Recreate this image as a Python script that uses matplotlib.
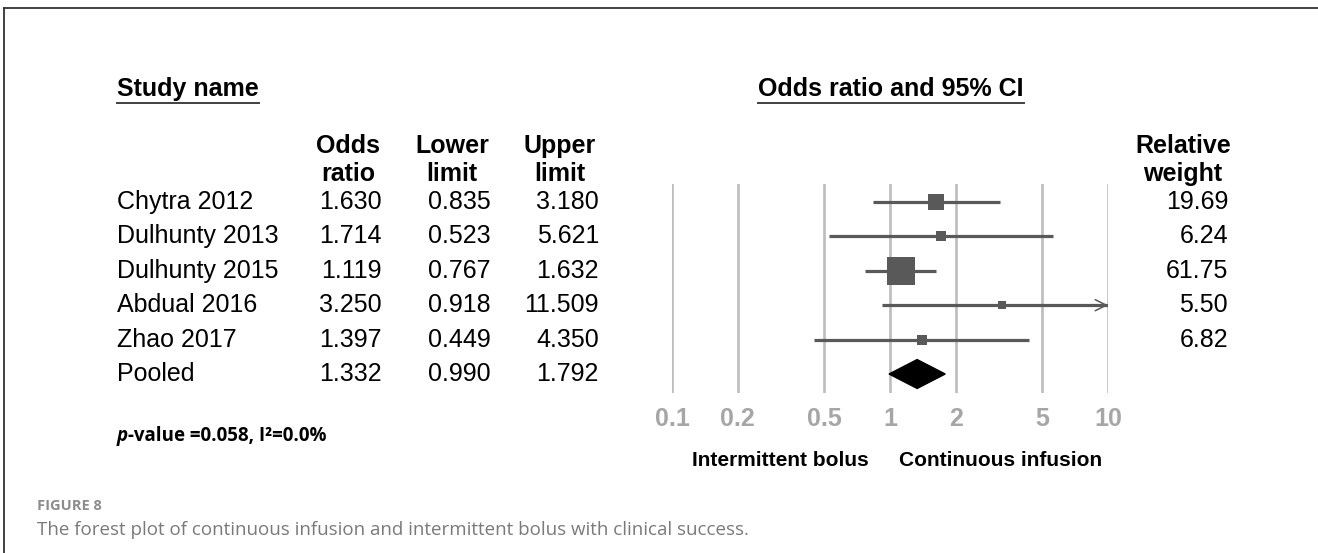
import numpy as np
import matplotlib
matplotlib.use("Agg")
import matplotlib.pyplot as plt
import matplotlib.transforms as mtransforms
from matplotlib.lines import Line2D
from matplotlib.patches import Polygon

plt.rcParams["font.family"] = ["Liberation Sans", "DejaVu Sans"]

# datos del forest plot
estudios = ["Chytra 2012", "Dulhunty 2013", "Dulhunty 2015", "Abdual 2016", "Zhao 2017", "Pooled"]
odds = [1.630, 1.714, 1.119, 3.250, 1.397, 1.332]
inferior = [0.835, 0.523, 0.767, 0.918, 0.449, 0.990]
superior = [3.180, 5.621, 1.632, 11.509, 4.350, 1.792]
pesos = [19.69, 6.24, 61.75, 5.50, 6.82]

ticks = [0.1, 0.2, 0.5, 1, 2, 5, 10]
tick_labels = ["0.1", "0.2", "0.5", "1", "2", "5", "10"]

W, H = 1318, 553
fig = plt.figure(figsize=(W / 100, H / 100), dpi=100)


def fx(px):
    return px / W


def fy(py):
    return 1 - py / H


# eje del grafico (en pixeles: x 672-1108, y 184-393)
ax = fig.add_axes([fx(672), fy(393), fx(1108) - fx(672), (393 - 184) / H])
ax.set_xscale("log")
ax.set_xlim(0.1, 10)
ax.set_ylim(5.552, -0.523)
for s in ax.spines.values():
    s.set_visible(False)
ax.set_yticks([])
ax.set_xticks(ticks)
ax.set_xticklabels(tick_labels)
ax.xaxis.set_minor_locator(matplotlib.ticker.NullLocator())
ax.tick_params(axis="x", length=0, pad=10, labelsize=18, labelcolor="#a6a6a6")
for t in ax.get_xticklabels():
    t.set_fontweight("bold")

for t in ticks:
    ax.axvline(t, color="#bdbdbd", lw=1.9, zorder=1)

gris = "#595959"
n = len(pesos)
for i in range(n):
    hi = min(superior[i], 10)
    ax.plot([inferior[i], hi], [i, i], color=gris, lw=2.3, solid_capstyle="butt", zorder=2)
    ax.plot(odds[i], i, "s", color=gris, ms=2.6 * np.sqrt(pesos[i]), mew=0, zorder=3)
    if superior[i] > 10:
        # flecha abierta cuando el limite se sale del eje
        ax.annotate("", xy=(10, i), xytext=(-12, 0), textcoords="offset points",
                    arrowprops=dict(arrowstyle="->", color=gris, lw=1.1,
                                    mutation_scale=20, shrinkA=0, shrinkB=0), zorder=3)

# diamante del efecto combinado
yp = n
dh = 0.42
rombo = Polygon([(inferior[yp], yp), (odds[yp], yp - dh), (superior[yp], yp), (odds[yp], yp + dh)],
                closed=True, facecolor="black", edgecolor="black", zorder=3)
ax.add_patch(rombo)

# columnas de texto
tr = mtransforms.blended_transform_factory(fig.transFigure, ax.transData)
fs = 18
for i, nombre in enumerate(estudios):
    ax.text(fx(117), i, nombre, transform=tr, fontsize=fs, va="center", ha="left")
    ax.text(fx(382), i, "%.3f" % odds[i], transform=tr, fontsize=fs, va="center", ha="right")
    ax.text(fx(491), i, "%.3f" % inferior[i], transform=tr, fontsize=fs, va="center", ha="right")
    ax.text(fx(599), i, "%.3f" % superior[i], transform=tr, fontsize=fs, va="center", ha="right")
for i, p in enumerate(pesos):
    ax.text(fx(1228), i, "%.2f" % p, transform=tr, fontsize=fs, va="center", ha="right")

# encabezados
h1 = fig.text(fx(117), fy(96), "Study name", fontsize=fs, fontweight="bold", ha="left", va="baseline")
h2 = fig.text(fx(891), fy(96), "Odds ratio and 95% CI", fontsize=fs, fontweight="bold",
              ha="center", va="baseline")
for x, txt in [(348, "Odds\nratio"), (452, "Lower\nlimit"), (560, "Upper\nlimit"), (1183, "Relative\nweight")]:
    fig.text(fx(x), fy(160), txt, fontsize=fs, fontweight="bold", ha="center", va="center",
             linespacing=1.25)

fig.canvas.draw()
r = fig.canvas.get_renderer()
for h in (h1, h2):
    bb = h.get_window_extent(r)
    fig.add_artist(Line2D([bb.x0 / W, bb.x1 / W], [fy(103), fy(103)], transform=fig.transFigure,
                          color="#404040", lw=1.4))

fig.text(fx(869), fy(461), "Intermittent bolus", fontsize=15, fontweight="bold",
         ha="right", va="center")
fig.text(fx(899), fy(461), "Continuous infusion", fontsize=15, fontweight="bold",
         ha="left", va="center")

# p-valor y heterogeneidad
pv = fig.text(fx(117), fy(436), "p", fontsize=13.5, fontweight="bold", style="italic",
              family=["Open Sans", "DejaVu Sans"], ha="left", va="center")
fig.canvas.draw()
bb = pv.get_window_extent(r)
fig.text(bb.x1 / W, fy(436), "-value =0.058, I\u00b2=0.0%", fontsize=13.5, fontweight="bold",
         family=["Open Sans", "DejaVu Sans"], ha="left", va="center")

# pie de figura
fig.text(fx(37), fy(506), "FIGURE 8", fontsize=10.5, fontweight="bold", color="#8c8c8c",
         family=["Open Sans", "DejaVu Sans"], ha="left", va="center")
fig.text(fx(37), fy(530), "The forest plot of continuous infusion and intermittent bolus with clinical success.",
         fontsize=13.5, color="#7a7a7a", family=["Open Sans", "DejaVu Sans"], ha="left", va="center")

# marco superior e izquierdo
fig.add_artist(Line2D([fx(4), 1], [fy(8), fy(8)], transform=fig.transFigure, color="#333333", lw=1.3))
fig.add_artist(Line2D([fx(4), fx(4)], [fy(8), 0], transform=fig.transFigure, color="#333333", lw=1.3))

fig.savefig("out.png", dpi=100)
